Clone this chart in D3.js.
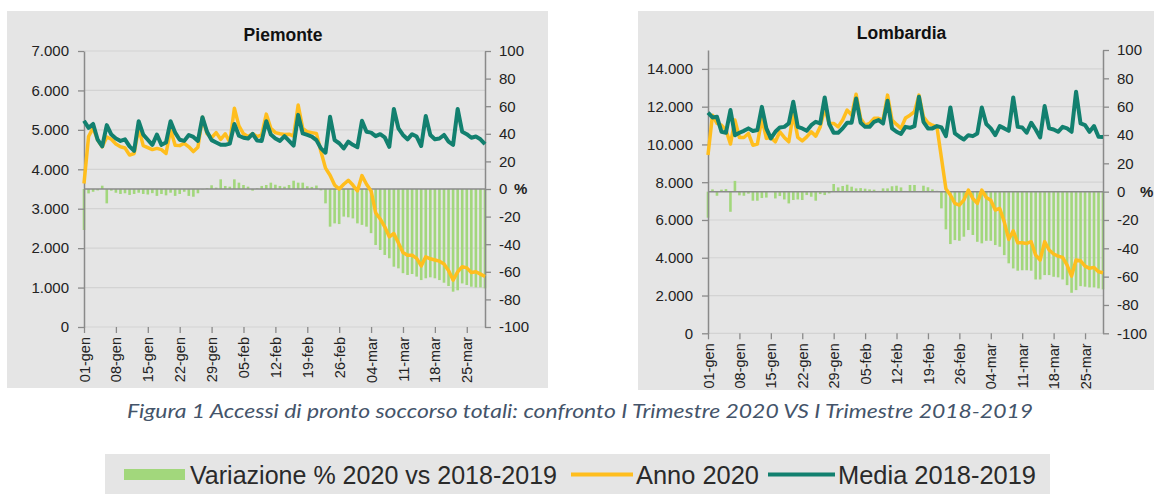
<!DOCTYPE html>
<html>
<head>
<meta charset="utf-8">
<script src="https://cdn.jsdelivr.net/npm/d3@7"></script>
<style>
    html, body { margin: 0; padding: 0; background: #fff; }
    svg { display: block; font-family: "Liberation Sans", Arial, sans-serif; }
</style>
</head>
<body>
<svg id="chart" width="1154" height="496"></svg>
<script>
// Category axis: one point per day, 01-gen .. 29-mar, a label every 7 days
const tickLabels = ["01-gen", "08-gen", "15-gen", "22-gen", "29-gen", "05-feb", "12-feb",
    "19-feb", "26-feb", "04-mar", "11-mar", "18-mar", "25-mar"];

// Piemonte
const piemonteAnno = [3640, 4830, 5050, 4740, 4570, 4820, 4760, 4640, 4570, 4540,
    4360, 4400, 5040, 4600, 4550, 4500, 4530, 4500, 4400, 5010,
    4610, 4600, 4660, 4570, 4450, 4560, 5320, 4900, 4800, 4930,
    4760, 4900, 4680, 5550, 5100, 4900, 4830, 4900, 4830, 4870,
    5400, 5040, 4930, 4900, 4880, 4890, 4840, 5630, 5040, 4950,
    4930, 4910, 4450, 4030, 3850, 3600, 3500, 3620, 3720, 3600,
    3450, 3840, 3620, 3450, 2900, 2740, 2540, 2290, 2370, 2130,
    1890, 1820, 1820, 1740, 1550, 1780, 1730, 1700, 1670, 1600,
    1430, 1190, 1400, 1530, 1500, 1380, 1400, 1340, 1280];
const piemonteMedia = [5230, 5050, 5150, 4750, 4580, 5120, 4880, 4780, 4720, 4760,
    4580, 4470, 5220, 4880, 4750, 4620, 4880, 4620, 4680, 5220,
    4930, 4750, 4720, 4870, 4820, 4720, 5320, 4950, 4740, 4680,
    4620, 4620, 4650, 5150, 4850, 4800, 4780, 4900, 4730, 4720,
    5220, 4880, 4780, 4720, 4840, 4720, 4600, 5380, 4910, 4870,
    4830, 4740, 4530, 4420, 5330, 4740, 4660, 4530, 4700, 4620,
    4560, 5230, 4950, 4930, 4840, 4890, 4810, 4570, 5530, 5040,
    4870, 4760, 4890, 4830, 4590, 5350, 4870, 4760, 4780, 4870,
    4700, 4620, 5530, 4950, 4890, 4800, 4830, 4760, 4640];
const piemonteVar = [-29.7, -3.2, -2.0, -1.0, 2.4, -10.4, -1.2, -2.7, -3.6, -3.1,
    -4.3, -3.6, -2.7, -3.6, -4.0, -3.0, -5.0, -3.6, -4.6, -2.7,
    -5.0, -3.6, -2.0, -5.0, -5.6, -3.1, -0.3, 0.5, 2.7, 1.0,
    7.0, 2.2, 1.7, 7.0, 4.6, 2.9, 1.7, -1.2, 0.5, 2.2,
    2.9, 4.6, 3.1, 2.2, 1.7, 2.9, 6.0, 4.6, 4.6, 2.0,
    1.5, 2.5, -1.0, -10.4, -27.3, -24.9, -25.4, -20.0, -20.5, -21.3,
    -24.9, -26.0, -27.3, -32.0, -40.6, -44.2, -47.8, -50.2, -56.3, -57.5,
    -61.0, -62.3, -61.6, -63.5, -66.0, -64.7, -64.0, -64.7, -66.0, -67.9,
    -70.3, -74.4, -73.4, -68.4, -69.6, -70.8, -71.3, -71.3, -72.0];

// Lombardia
const lombardiaAnno = [9440, 11550, 11110, 11020, 10760, 10020, 11290, 10370, 10370, 10580,
    9960, 10020, 11380, 10320, 10370, 10140, 10670, 10370, 10140, 11640,
    10370, 10190, 10400, 10670, 10440, 10930, 11900, 11110, 11110, 10930,
    11290, 11820, 11550, 12660, 11380, 11020, 11110, 11380, 11380, 11290,
    12610, 11290, 11060, 10850, 11400, 11550, 11730, 12610, 11460, 11150,
    11020, 10930, 9300, 7650, 7320, 6880, 6790, 7050, 7580, 7140,
    6880, 7580, 7190, 7050, 6530, 6610, 5900, 4970, 5430, 4790,
    4790, 4760, 4850, 4140, 3880, 4850, 4410, 4200, 4090, 4020,
    3610, 3030, 3880, 3840, 3560, 3440, 3490, 3260, 3210];
const lombardiaMedia = [11680, 11430, 11460, 10670, 10620, 11820, 10490, 10620, 10720, 10850,
    10710, 10760, 11990, 10850, 10320, 10670, 10900, 10930, 11110, 12260,
    10930, 10850, 10720, 11020, 11200, 11110, 12490, 11080, 10620, 10620,
    10850, 11150, 11150, 12430, 11150, 10930, 10930, 11200, 11290, 11110,
    12310, 10850, 10670, 10550, 10930, 10880, 10970, 12520, 11200, 10850,
    10850, 10970, 10900, 10440, 11960, 10580, 10410, 10260, 10490, 10440,
    10580, 11960, 11080, 10850, 10490, 10970, 10850, 10720, 12490, 10930,
    10900, 10620, 11150, 10790, 10370, 12030, 10850, 10790, 10670, 10930,
    10850, 10670, 12790, 11110, 11020, 10670, 10970, 10410, 10400];
const lombardiaVar = [-18.4, 1.6, -2.9, 1.4, 1.8, -14.2, 7.6, -2.6, -2.9, -1.4,
    -6.4, -6.4, -4.5, -4.2, 0.3, -4.8, -3.1, -5.5, -8.3, -5.9,
    -5.5, -5.9, -2.4, -3.6, -6.4, -1.7, -2.4, -1.2, 5.4, 3.0,
    4.0, 4.9, 3.5, 2.3, 2.5, 2.1, 1.6, 1.4, 0.5, 2.3,
    2.3, 3.8, 4.2, 3.0, 0.5, 4.7, 4.7, 0.4, 4.2, 3.1,
    1.6, 0.6, -11.8, -26.6, -37.0, -34.2, -34.7, -31.8, -27.1, -30.6,
    -35.4, -36.5, -34.7, -34.7, -37.7, -38.9, -44.8, -50.6, -54.2, -55.8,
    -55.5, -55.5, -55.8, -62.0, -62.0, -58.9, -58.9, -60.1, -60.5, -62.0,
    -66.0, -71.4, -69.5, -66.7, -67.1, -67.6, -67.6, -68.3, -69.0];

const legendLabels = ["Variazione % 2020 vs 2018-2019", "Anno 2020", "Media 2018-2019"];
const captionText = "Figura 1 Accessi di pronto soccorso totali: confronto I Trimestre 2020 VS I Trimestre 2018-2019";

const colors = {
    panel: "#e5e5e5",
    grid: "#d3d3d3",
    axis: "#8a8a8a",
    text: "#222",
    bar: "#a2d77c",
    anno: "#ffbe1e",
    media: "#12806f",
    caption: "#44546a"
};

// Italian number format: 7.000, minus as plain hyphen
const itLocale = d3.formatLocale({ decimal: ",", thousands: ".", grouping: [3], currency: ["€", ""], minus: "-" });
const fmtValue = itLocale.format(",d");
const fmtPct = itLocale.format("d");

const svg = d3.select("#chart");
const defs = svg.append("defs");

/**
 * Draws one regional panel: grey box, gridlines, % bars, the two lines, the axes
 * @param {object} p panel layout + data
 */
function drawPanel(p) {
    defs.append("clipPath")
        .attr("id", "clip-" + p.id)
        .append("rect")
        .attr("x", p.box.x).attr("y", p.box.y)
        .attr("width", p.box.w).attr("height", p.box.h);

    const g = svg.append("g").attr("clip-path", "url(#clip-" + p.id + ")");

    g.append("rect")
        .attr("x", p.box.x).attr("y", p.box.y)
        .attr("width", p.box.w).attr("height", p.box.h)
        .attr("fill", colors.panel);

    const n = p.anno.length;
    const x = d3.scaleLinear().domain([0, n - 1]).range([p.plot.left, p.plot.right]);
    const y = d3.scaleLinear().domain([0, p.yMax]).range([p.plot.bottom, p.plot.top]);
    const yPct = d3.scaleLinear().domain([-100, 100]).range([p.plot.bottom, p.plot.top]);

    const yTicks = d3.range(0, p.yTop + 1, p.yStep);

    // horizontal gridlines on the value axis
    g.append("g")
        .selectAll("line")
        .data(yTicks)
        .join("line")
        .attr("x1", p.plot.left)
        .attr("x2", p.plot.right)
        .attr("y1", (d) => y(d))
        .attr("y2", (d) => y(d))
        .attr("stroke", colors.grid)
        .attr("stroke-width", 1.2);

    // % variation bars on the secondary axis
    const barW = 2.6;
    g.append("g")
        .selectAll("rect")
        .data(p.variazione)
        .join("rect")
        .attr("x", (d, i) => x(i) - barW / 2)
        .attr("y", (d) => yPct(Math.max(0, d)))
        .attr("width", barW)
        .attr("height", (d) => Math.abs(yPct(d) - yPct(0)))
        .attr("fill", colors.bar);

    // category axis line crossing at 0 %
    g.append("line")
        .attr("x1", p.plot.left)
        .attr("x2", p.plot.right)
        .attr("y1", yPct(0))
        .attr("y2", yPct(0))
        .attr("stroke", colors.axis)
        .attr("stroke-width", 1.5);

    // left axis (accessi)
    const left = g.append("g")
        .attr("transform", "translate(" + p.plot.left + ",0)")
        .call(d3.axisLeft(y).tickValues(yTicks).tickFormat(fmtValue).tickSize(6).tickSizeOuter(0).tickPadding(9));

    // right axis (%)
    const right = g.append("g")
        .attr("transform", "translate(" + p.plot.right + ",0)")
        .call(d3.axisRight(yPct).tickValues(d3.range(-100, 101, 20)).tickFormat(fmtPct).tickSize(6).tickSizeOuter(0).tickPadding(8));

    // bottom ticks with rotated date labels
    const bottom = g.append("g")
        .attr("transform", "translate(0," + p.plot.bottom + ")")
        .call(d3.axisBottom(x)
            .tickValues(tickLabels.map((d, k) => k * 7))
            .tickFormat((d, k) => tickLabels[k])
            .tickSize(6)
            .tickSizeOuter(0));
    bottom.select(".domain").remove();
    bottom.selectAll("text")
        .attr("transform", "rotate(-90)")
        .attr("text-anchor", "end")
        .attr("x", -10)
        .attr("y", 0)
        .attr("dy", "0.35em")
        .style("font-size", "14.5px");

    [left, right, bottom].forEach((a) => {
        a.selectAll(".domain").attr("stroke", colors.axis).attr("stroke-width", 1.5);
        a.selectAll(".tick line").attr("stroke", colors.axis).attr("stroke-width", 1.3);
        a.selectAll("text").attr("fill", colors.text).attr("font-family", "'Liberation Sans', Arial, sans-serif");
    });
    left.selectAll("text").style("font-size", "15px");
    right.selectAll("text").style("font-size", "15px");

    // lines: 2020 below, 2018-2019 average on top
    const line = d3.line()
        .x((d, i) => x(i))
        .y((d) => y(d));

    g.append("path")
        .datum(p.anno)
        .attr("d", line)
        .attr("fill", "none")
        .attr("stroke", colors.anno)
        .attr("stroke-width", 3.5)
        .attr("stroke-linejoin", "round");

    g.append("path")
        .datum(p.media)
        .attr("d", line)
        .attr("fill", "none")
        .attr("stroke", colors.media)
        .attr("stroke-width", 4)
        .attr("stroke-linejoin", "round");

    g.append("text")
        .attr("x", p.title.x)
        .attr("y", p.title.y)
        .attr("text-anchor", "middle")
        .attr("font-weight", "bold")
        .attr("font-size", 17.5)
        .attr("fill", "#111")
        .text(p.title.text);

    g.append("text")
        .attr("x", p.plot.right + p.pctOffset)
        .attr("y", yPct(0))
        .attr("dy", "0.35em")
        .attr("font-weight", "bold")
        .attr("font-size", 15)
        .attr("fill", colors.text)
        .text("%");
}

drawPanel({
    id: "piemonte",
    box: { x: 7, y: 11, w: 541, h: 377 },
    plot: { left: 84, right: 485, top: 51, bottom: 327 },
    yMax: 7000, yTop: 7000, yStep: 1000,
    title: { text: "Piemonte", x: 283, y: 40.5 },
    pctOffset: 29,
    anno: piemonteAnno,
    media: piemonteMedia,
    variazione: piemonteVar
});

drawPanel({
    id: "lombardia",
    box: { x: 638, y: 11, w: 516, h: 379 },
    plot: { left: 708, right: 1103, top: 50, bottom: 333.3 },
    yMax: 15000, yTop: 14000, yStep: 2000,
    title: { text: "Lombardia", x: 901.5, y: 39 },
    pctOffset: 37,
    anno: lombardiaAnno,
    media: lombardiaMedia,
    variazione: lombardiaVar
});

// caption
svg.append("text")
    .attr("x", 127)
    .attr("y", 418)
    .attr("font-family", "Lato, 'Open Sans', sans-serif")
    .attr("font-style", "italic")
    .attr("font-size", 20)
    .attr("fill", colors.caption)
    .attr("textLength", 906)
    .attr("lengthAdjust", "spacingAndGlyphs")
    .text(captionText);

// legend
const legend = svg.append("g");
legend.append("rect")
    .attr("x", 105).attr("y", 454)
    .attr("width", 945).attr("height", 40)
    .attr("fill", colors.panel);

const legendItems = [
    { label: legendLabels[0], kind: "bar", color: colors.bar, x0: 124, x1: 185, tx: 190, tw: 367 },
    { label: legendLabels[1], kind: "line", color: colors.anno, x0: 571, x1: 633, tx: 636, tw: 123 },
    { label: legendLabels[2], kind: "line", color: colors.media, x0: 768, x1: 835, tx: 838, tw: 198 }
];

legendItems.forEach((d) => {
    if (d.kind === "bar") {
        legend.append("rect")
            .attr("x", d.x0).attr("y", 469)
            .attr("width", d.x1 - d.x0).attr("height", 11)
            .attr("fill", d.color);
    } else {
        legend.append("line")
            .attr("x1", d.x0).attr("x2", d.x1)
            .attr("y1", 474.5).attr("y2", 474.5)
            .attr("stroke", d.color)
            .attr("stroke-width", 4);
    }
    legend.append("text")
        .attr("x", d.tx)
        .attr("y", 484)
        .attr("font-family", "'Liberation Sans Narrow', 'Arial Narrow', 'Liberation Sans', sans-serif")
        .attr("font-size", 26)
        .attr("fill", "#2a2a2a")
        .attr("textLength", d.tw)
        .attr("lengthAdjust", "spacingAndGlyphs")
        .text(d.label);
});
</script>
</body>
</html>
